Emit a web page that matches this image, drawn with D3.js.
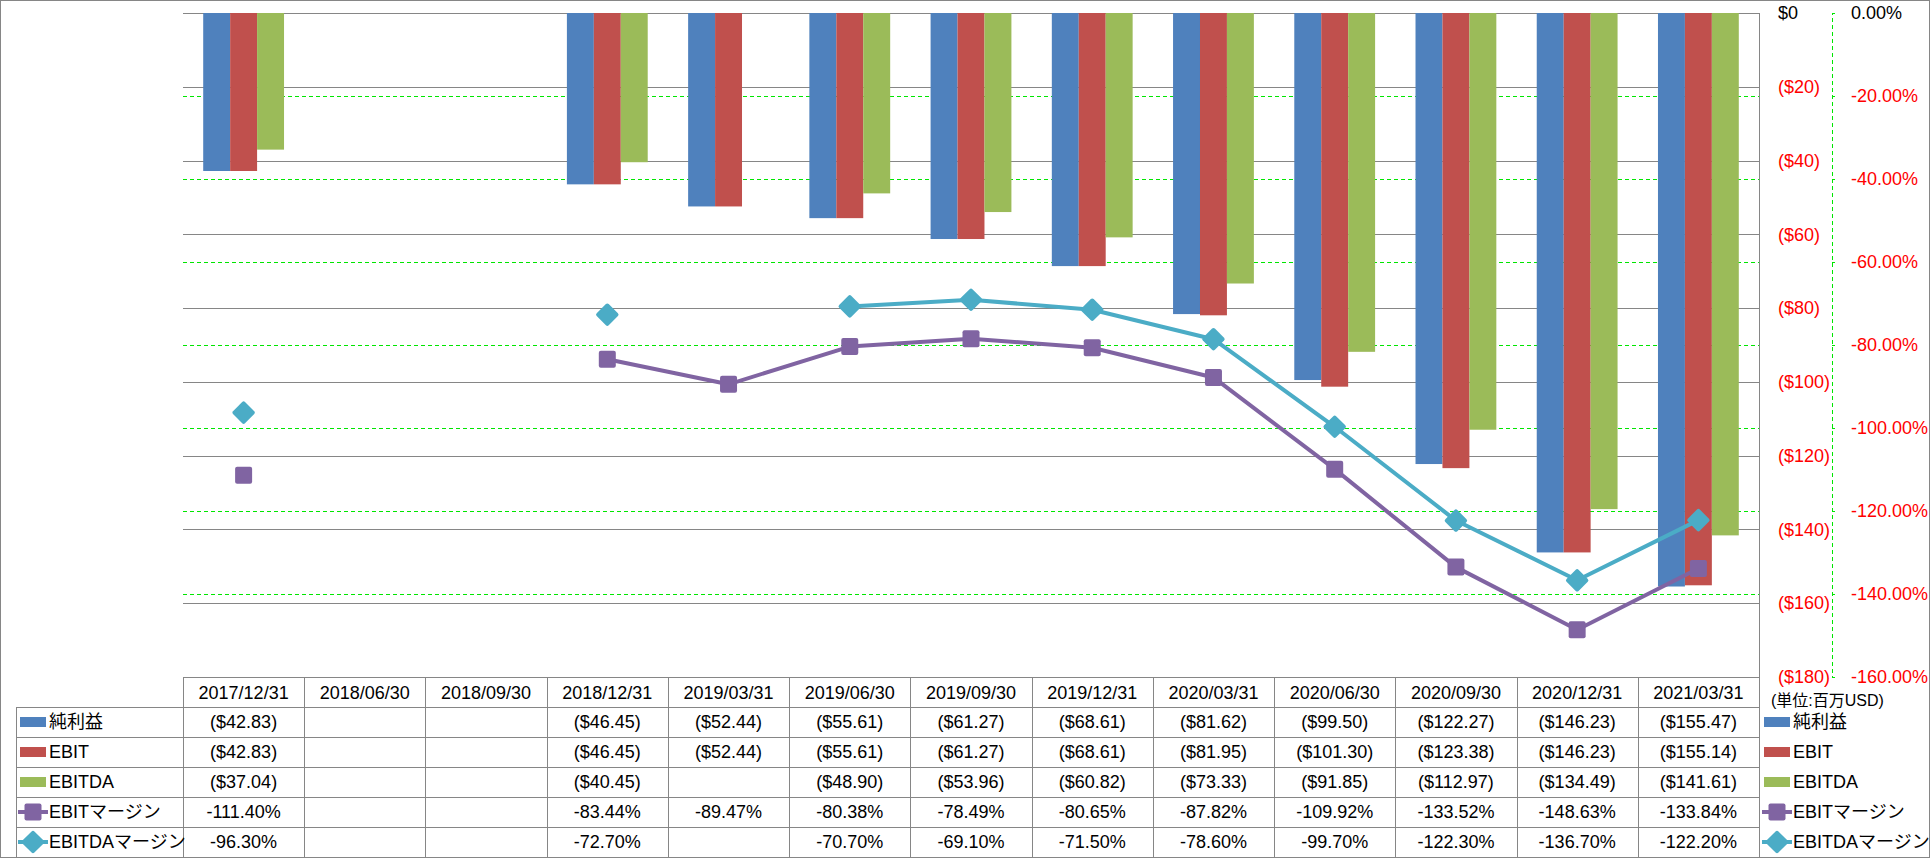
<!DOCTYPE html>
<html><head><meta charset="utf-8">
<script src="https://cdn.jsdelivr.net/npm/d3@7"></script>
<style>
body{margin:0;background:#fff;}
text{font-family:"Liberation Sans","Noto Sans CJK JP",sans-serif;}
</style>
</head><body>
<svg id="c" width="1930" height="858"></svg>
<script>
const categories = ["2017/12/31","2018/06/30","2018/09/30","2018/12/31","2019/03/31","2019/06/30","2019/09/30","2019/12/31","2020/03/31","2020/06/30","2020/09/30","2020/12/31","2021/03/31"];
const netIncome = [-42.83,null,null,-46.45,-52.44,-55.61,-61.27,-68.61,-81.62,-99.50,-122.27,-146.23,-155.47];
const ebit      = [-42.83,null,null,-46.45,-52.44,-55.61,-61.27,-68.61,-81.95,-101.30,-123.38,-146.23,-155.14];
const ebitda    = [-37.04,null,null,-40.45,null,-48.90,-53.96,-60.82,-73.33,-91.85,-112.97,-134.49,-141.61];
const ebitMargin   = [-111.40,null,null,-83.44,-89.47,-80.38,-78.49,-80.65,-87.82,-109.92,-133.52,-148.63,-133.84];
const ebitdaMargin = [-96.30,null,null,-72.70,null,-70.70,-69.10,-71.50,-78.60,-99.70,-122.30,-136.70,-122.20];
const seriesNames = ["純利益","EBIT","EBITDA","EBITマージン","EBITDAマージン"];
const dollarTicks = [0,-20,-40,-60,-80,-100,-120,-140,-160,-180];
const pctTicks = [0,-20,-40,-60,-80,-100,-120,-140,-160];
const unitLabel = "(単位:百万USD)";

const W = 1930, H = 858;
const plotL = 183, plotR = 1759, plotT = 13, plotB = 677;
const rowH = 30, tableT = 677, headerH = 30, legendL = 16;
const colors = ["#4F81BD","#C0504D","#9BBB59","#8064A2","#4BACC6"];
const gray = "#868686", green = "#00E600";

const svg = d3.select("#c");
svg.append("rect").attr("x",0.5).attr("y",0.5).attr("width",W-1).attr("height",H-1)
  .attr("fill","#fff").attr("stroke",gray);

const x = d3.scaleBand().domain(categories).range([plotL, plotR]).padding(0);
const bw = x.bandwidth();
const barW = bw/4.5;
const xs = d3.scaleBand().domain([0,1,2]).range([barW*0.75, barW*3.75]).padding(0);
const yL = d3.scaleLinear().domain([0,-180]).range([plotT, plotB]);
const yR = d3.scaleLinear().domain([0,-160]).range([plotT, plotB]);

// gray gridlines
svg.append("g").selectAll("line").data(dollarTicks).join("line")
  .attr("x1",plotL).attr("x2",plotR)
  .attr("y1",d=>Math.round(yL(d))+0.5).attr("y2",d=>Math.round(yL(d))+0.5)
  .attr("stroke",gray).attr("stroke-width",1);
// green dashed gridlines (secondary)
svg.append("g").selectAll("line").data(pctTicks.filter(d=>d!==0 && d!==-160)).join("line")
  .attr("x1",plotL).attr("x2",plotR)
  .attr("y1",d=>Math.round(yR(d))+0.5).attr("y2",d=>Math.round(yR(d))+0.5)
  .attr("stroke",green).attr("stroke-width",1).attr("stroke-dasharray","4,3");

// bars
const barSeries = [netIncome, ebit, ebitda];
barSeries.forEach((arr,si)=>{
  svg.append("g").selectAll("rect").data(categories.map((c,i)=>({c,v:arr[i]})).filter(d=>d.v!=null)).join("rect")
    .attr("x",d=>x(d.c)+xs(si)).attr("width",xs.bandwidth())
    .attr("y",yL(0)).attr("height",d=>yL(d.v)-yL(0))
    .attr("fill",colors[si]);
});

// lines
const lineSeries = [ebitMargin, ebitdaMargin];
const line = d3.line().defined(d=>d.v!=null).x(d=>x(d.c)+bw/2).y(d=>yR(d.v));
lineSeries.forEach((arr,li)=>{
  const data = categories.map((c,i)=>({c,v:arr[i]}));
  svg.append("path").datum(data).attr("d",line).attr("fill","none")
    .attr("stroke",colors[3+li]).attr("stroke-width",4).attr("stroke-linejoin","round");
});
// markers
function marker(g, type, cx, cy, color){
  if(type===0){
    g.append("rect").attr("x",cx-8.5).attr("y",cy-8.5).attr("width",17).attr("height",17)
      .attr("rx",2).attr("fill",color);
  } else {
    g.append("rect").attr("x",-8.5).attr("y",-8.5).attr("width",17).attr("height",17)
      .attr("rx",2).attr("fill",color).attr("transform",`translate(${cx},${cy}) rotate(45)`);
  }
}
lineSeries.forEach((arr,li)=>{
  const g = svg.append("g");
  categories.forEach((c,i)=>{ if(arr[i]!=null) marker(g, li, x(c)+bw/2, yR(arr[i]), colors[3+li]); });
});

// right vertical axis line
svg.append("line").attr("x1",plotR+0.5).attr("x2",plotR+0.5).attr("y1",plotT).attr("y2",H)
  .attr("stroke",gray);

// dollar axis labels
const axL = svg.append("g").attr("transform",`translate(${plotR},0)`)
  .call(d3.axisRight(yL).tickValues(dollarTicks).tickSize(0).tickPadding(19)
    .tickFormat(d=> d===0 ? "$0" : "($"+Math.abs(d)+")"));
axL.select(".domain").remove();
axL.selectAll("text").attr("font-size",18).attr("fill",d=>d===0?"#000":"#FF0000")
  .attr("font-family",'"Liberation Sans",sans-serif');

// percent axis
const axR = svg.append("g").attr("transform",`translate(1832,0)`)
  .call(d3.axisRight(yR).tickValues(pctTicks).tickSize(3).tickPadding(16)
    .tickFormat(d=> d.toFixed(2)+"%"));
axR.select(".domain").attr("stroke",green).attr("stroke-dasharray","4,3");
axR.selectAll(".tick line").attr("stroke",green);
axR.selectAll("text").attr("font-size",18).attr("fill",d=>d===0?"#000":"#FF0000")
  .attr("font-family",'"Liberation Sans",sans-serif');

// data table
const tg = svg.append("g");
// horizontal lines
tg.append("line").attr("x1",plotL).attr("x2",plotR).attr("y1",tableT+0.5).attr("y2",tableT+0.5).attr("stroke",gray);
d3.range(1,6).forEach(r=>{
  const yy = tableT+headerH+(r-1)*rowH;
  tg.append("line").attr("x1",legendL).attr("x2",plotR).attr("y1",yy+0.5).attr("y2",yy+0.5).attr("stroke",gray);
});
// vertical lines
tg.append("line").attr("x1",legendL+0.5).attr("x2",legendL+0.5).attr("y1",tableT+headerH).attr("y2",H).attr("stroke",gray);
categories.forEach(c=>{
  tg.append("line").attr("x1",Math.round(x(c))+0.5).attr("x2",Math.round(x(c))+0.5)
    .attr("y1",tableT).attr("y2",H).attr("stroke",gray);
});
// headers
tg.selectAll("text.hdr").data(categories).join("text").attr("class","hdr")
  .attr("x",d=>x(d)+bw/2).attr("y",tableT+headerH/2+1).attr("dy","0.35em")
  .attr("text-anchor","middle").attr("font-size",18).attr("fill","#000").text(d=>d);
const fmtD = v=> v==null ? "" : "($"+Math.abs(v).toFixed(2)+")";
const fmtP = v=> v==null ? "" : v.toFixed(2)+"%";
const allSeries = [netIncome, ebit, ebitda, ebitMargin, ebitdaMargin];
allSeries.forEach((arr,si)=>{
  const cy = tableT+headerH+si*rowH+rowH/2;
  tg.append("g").selectAll("text").data(categories.map((c,i)=>({c,v:arr[i]}))).join("text")
    .attr("x",d=>x(d.c)+bw/2).attr("y",cy).attr("dy","0.35em")
    .attr("text-anchor","middle").attr("font-size",18).attr("fill","#000")
    .text(d=> si<3 ? fmtD(d.v) : fmtP(d.v));
});

// legend keys
function legendKey(g, si, kx, cy){
  if(si<3){
    g.append("rect").attr("x",kx).attr("y",cy-5).attr("width",26).attr("height",10).attr("fill",colors[si]);
  } else {
    g.append("line").attr("x1",kx-2).attr("x2",kx+28).attr("y1",cy).attr("y2",cy)
      .attr("stroke",colors[si]).attr("stroke-width",4);
    marker(g, si-3, kx+13, cy, colors[si]);
  }
}
seriesNames.forEach((name,si)=>{
  const cy = tableT+headerH+si*rowH+rowH/2;
  legendKey(svg, si, 20, cy);
  svg.append("text").attr("x",49).attr("y",cy).attr("dy","0.35em").attr("font-size",18)
    .attr("fill","#000").text(name);
  legendKey(svg, si, 1764, cy);
  svg.append("text").attr("x",1793).attr("y",cy).attr("dy","0.35em").attr("font-size",18)
    .attr("fill","#000").text(name);
});
svg.append("text").attr("x",1771).attr("y",700).attr("dy","0.35em").attr("font-size",16)
  .attr("fill","#000").text(unitLabel);
</script>
</body></html>
